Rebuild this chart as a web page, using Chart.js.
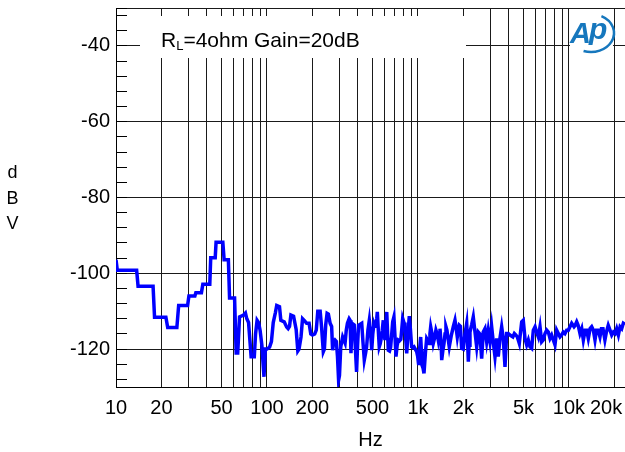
<!DOCTYPE html>
<html>
<head>
<meta charset="utf-8">
<script src="https://cdn.jsdelivr.net/npm/chart.js@4.4.1/dist/chart.umd.min.js"></script>
<style>
  html, body { margin: 0; padding: 0; background: #fff; }
  #wrap { position: relative; width: 625px; height: 452px; }
</style>
</head>
<body>
<div id="wrap"><canvas id="noiseChart" width="625" height="452"></canvas></div>
<script>
// noise floor spectrum
const freqHz = [
  10, 10.2, 13.7, 14.0, 17.6, 18.0, 21.4, 22.0, 25.3, 26.0, 29.8, 30.4, 33.3, 33.8, 36.8, 37.6,
  41.8, 42.4, 45.4, 46.0, 51.0, 52.0, 55.5, 56.5, 61.0, 62.5, 64.0, 65.8, 70, 72, 73.5, 75.5,
  78.5, 82.4, 84, 86, 88, 90, 92.5, 95.5, 97.5, 100, 104, 107, 110, 113.5, 116, 121,
  123.5, 130, 135, 138, 141, 144, 150, 156, 160, 163, 168, 172, 177, 183, 190, 195,
  200, 207, 212, 217, 225, 230, 236, 240, 245, 250, 255, 262, 268, 272, 277, 282,
  288, 293, 298, 302, 308, 317, 329, 335, 341, 350, 355, 360, 366, 378, 392, 398,
  404, 412, 424, 432, 441, 450, 457, 466, 476, 486, 494, 502, 511, 520, 527, 533,
  538, 546, 554, 562, 569, 580, 589, 597, 604, 612, 621, 628, 636, 648, 659, 670,
  680, 693, 705, 715, 728, 741, 755, 770, 780, 792, 808, 820, 832, 842, 858, 876,
  892, 908, 925, 941, 960, 980, 996, 1011, 1025, 1042, 1052, 1062, 1080, 1096, 1120, 1142,
  1165, 1189, 1200, 1214, 1240, 1263, 1290, 1315, 1340, 1362, 1380, 1399, 1420, 1436, 1460, 1487,
  1510, 1532, 1555, 1580, 1611, 1660, 1713, 1758, 1790, 1821, 1850, 1877, 1910, 1946, 1994, 2047,
  2102, 2130, 2155, 2180, 2210, 2270, 2324, 2385, 2448, 2508, 2570, 2641, 2706, 2778, 2850, 2921,
  3000, 3076, 3150, 3236, 3321, 3402, 3490, 3583, 3672, 3720, 3770, 3867, 3960, 4066, 4250, 4350,
  4454, 4550, 4688, 4863, 4981, 5114, 5248, 5380, 5521, 5662, 5807, 5961, 6100, 6266, 6430, 6596,
  6760, 6939, 7121, 7300, 7489, 7680, 7875, 8079, 8290, 8500, 8718, 8940, 9167, 9400, 9652, 9900,
  10160, 10420, 10800, 11000, 11250, 11500, 11830, 12150, 12450, 12800, 13100, 13430, 13800, 14140, 14500, 14870,
  15200, 15600, 16040, 16400, 16800, 17300, 17700, 18200, 18700, 19190, 19700, 20200, 20700, 21250, 21800, 22350,
  22900, 23500
];
const levelDbv = [
  -96.4, -99.2, -99.2, -103.4, -103.4, -111.6, -111.6, -114.3, -114.3, -108.5, -108.5, -106.0, -106.0, -105.1, -105.1, -102.9,
  -102.9, -95.9, -95.9, -91.8, -91.8, -96.4, -96.4, -106.5, -106.5, -121, -121, -111.5, -111, -110.5, -112, -113,
  -122, -122, -116, -112.4, -113, -115, -119, -127.3, -120, -120, -119.5, -118, -113, -110.5, -108.5, -108.8,
  -112.4, -112.8, -114.2, -114.6, -114, -111, -111.3, -114.8, -120.5, -120, -116.8, -112, -112.5, -113.2, -113.2, -116,
  -116.3, -116, -115, -110, -110, -114.3, -120.7, -120, -113.5, -110.6, -110.8, -113.2, -114, -120.3, -118, -117.6,
  -118, -122, -128.2, -127, -119.4, -116.8, -118.4, -115, -113.2, -112, -112.4, -121.1, -113.2, -113.6, -126, -119,
  -113.7, -113.5, -113.2, -118, -122.9, -121, -119.4, -115, -112.4, -116, -120.3, -116, -113.2, -114, -113.6, -112,
  -110.2, -115, -119.4, -118.6, -117.5, -115, -112.4, -115, -117.6, -114, -110.2, -115, -120.3, -120.5, -119.5, -116,
  -112.8, -111.5, -117, -122, -119, -117.6, -117.8, -117.4, -115, -111.9, -113, -114.8, -118, -121.1, -116, -111.3,
  -115, -119.4, -119.6, -119.4, -120, -120.7, -122, -124.2, -120, -116.8, -120, -124.2, -125, -126.4, -121, -117.2,
  -117.8, -118.5, -116, -114.1, -116, -118.5, -117, -115, -116, -117.6, -116, -114.6, -118, -122.9, -120.5, -118.5,
  -116, -114.1, -115, -117, -119.4, -116.5, -114.1, -112.4, -114.5, -116.8, -115, -113.7, -114, -119.8, -120, -116,
  -113.2, -118, -123.3, -119, -115.5, -113.5, -111.5, -115.5, -119.4, -115.5, -116, -122.5, -115.5, -114.6, -118.1, -115,
  -118.1, -114.1, -118, -122, -117.2, -122, -117.2, -114.1, -117.2, -121, -124.7, -115.9, -115.9, -116.3, -116.8, -115.9,
  -116.3, -116.8, -118.5, -112.8, -112.4, -117.2, -118.9, -117.6, -119.4, -119.8, -115, -114.1, -115.5, -116.8, -114.1, -118.1,
  -117.6, -115.9, -115, -115.5, -117.2, -116.3, -117.6, -118.9, -115, -115.9, -116.8, -116.3, -115.5, -115.9, -115, -115,
  -114.1, -113.2, -114.1, -113.7, -112.8, -113.7, -115.9, -114.6, -117.6, -115, -115, -117.2, -114.6, -114.1, -115, -117.6,
  -115, -115, -116.8, -114.6, -114.6, -117.6, -115.5, -113.7, -115, -116.3, -115.5, -115.9, -114.6, -116.3, -114.1, -114.6,
  -113.2, -113.5
];

const X_MIN = 10, X_MAX = 23500;
const Y_MIN = -130, Y_MAX = -30;
const xTickValues = [10, 20, 30, 40, 50, 60, 70, 80, 90,
  100, 200, 300, 400, 500, 600, 700, 800, 900,
  1000, 2000, 3000, 4000, 5000, 6000, 7000, 8000, 9000, 10000, 20000];
const xLabelValues = [10, 20, 50, 100, 200, 500, 1000, 2000, 5000, 10000, 20000];
const xLabelTexts = ['10', '20', '50', '100', '200', '500', '1k', '2k', '5k', '10k', '20k   '];
const yTickValues = [-30, -32, -36, -40, -44, -48, -52, -56, -60, -64, -68, -72, -76, -80,
  -84, -88, -92, -96, -100, -104, -108, -112, -116, -120, -124, -128];
const yLabelValues = [-40, -60, -80, -100, -120];

const FONT = '"Liberation Sans", Arial, sans-serif';
const GRID = '#1a1a1a';

// label box, logo and stacked y title
const decorPlugin = {
  id: 'decor',
  beforeDatasetsDraw(chart) {
    const ctx = chart.ctx;
    ctx.save();
    ctx.fillStyle = '#fff';
    ctx.fillRect(140, 16, 326, 42);
    ctx.fillRect(570, 11, 43, 46);

    ctx.fillStyle = '#000';
    ctx.textBaseline = 'alphabetic';
    ctx.textAlign = 'left';
    ctx.font = '21px ' + FONT;
    let x = 161;
    ctx.fillText('R', x, 47);
    x += ctx.measureText('R').width;
    ctx.font = '13px ' + FONT;
    ctx.fillText('L', x, 50);
    x += ctx.measureText('L').width;
    ctx.font = '21px ' + FONT;
    ctx.fillText('=4ohm Gain=20dB', x, 47);

    // Ap logo
    ctx.fillStyle = '#1677bd';
    ctx.strokeStyle = '#1677bd';
    ctx.font = 'italic bold 29px ' + FONT;
    ctx.fillText('A', 570, 43);
    ctx.font = 'italic bold 30px ' + FONT;
    ctx.fillText('p', 589, 39);
    ctx.lineWidth = 2.5;
    ctx.beginPath();
    ctx.ellipse(591, 33, 23, 19, 0, -1.1, 1.9);
    ctx.stroke();

    ctx.fillStyle = '#000';
    ctx.textAlign = 'center';
    ctx.font = '18px ' + FONT;
    ctx.fillText('d', 12.5, 178);
    ctx.fillText('B', 12.5, 204);
    ctx.fillText('V', 12.5, 229);
    ctx.restore();
  }
};

const ctx = document.getElementById('noiseChart').getContext('2d');
const noiseChart = new Chart(ctx, {
  type: 'line',
  data: {
    datasets: [{
      data: freqHz.map((f, i) => ({ x: f, y: levelDbv[i] })),
      borderColor: '#0000ff',
      borderWidth: 3.5,
      pointRadius: 0,
      tension: 0,
      fill: false
    }]
  },
  options: {
    responsive: false,
    animation: false,
    devicePixelRatio: 1,
    layout: { padding: { top: 8, left: 0, right: 0, bottom: 0 } },
    plugins: {
      legend: { display: false },
      tooltip: { enabled: false }
    },
    scales: {
      x: {
        type: 'logarithmic',
        min: X_MIN,
        max: X_MAX,
        afterBuildTicks: (scale) => {
          scale.ticks = xTickValues.map(v => ({ value: v }));
        },
        afterFit: (scale) => {
          scale.height = 65;
          scale.paddingLeft = 0;
          scale.paddingRight = 0;
        },
        ticks: {
          autoSkip: false,
          maxRotation: 0,
          minRotation: 0,
          padding: 9,
          color: '#000',
          font: { family: FONT, size: 20 },
          callback: (value) => {
            const i = xLabelValues.indexOf(value);
            return i >= 0 ? xLabelTexts[i] : '';
          }
        },
        grid: { color: GRID, lineWidth: 1, drawTicks: false },
        border: { display: true, color: '#000', width: 1 },
        title: {
          display: true,
          text: 'Hz',
          color: '#000',
          font: { family: FONT, size: 20 },
          padding: { top: 0, bottom: 0 }
        }
      },
      y: {
        type: 'linear',
        min: Y_MIN,
        max: Y_MAX,
        afterBuildTicks: (scale) => {
          scale.ticks = yTickValues.map(v => ({ value: v }));
        },
        afterFit: (scale) => {
          scale.width = 116;
          scale.paddingTop = 0;
          scale.paddingBottom = 0;
        },
        ticks: {
          autoSkip: false,
          padding: 17,
          color: '#000',
          font: { family: FONT, size: 20 },
          callback: (value) => yLabelValues.includes(value) ? String(value) : ''
        },
        grid: {
          color: (c) => (c.tick && (c.tick.value % 20 === 0 || c.tick.value === Y_MAX)) ? GRID : 'rgba(0,0,0,0)',
          lineWidth: 1,
          drawTicks: true,
          tickLength: -11,
          tickColor: '#000',
          tickWidth: 1
        },
        border: { display: true, color: '#000', width: 1 }
      }
    }
  },
  plugins: [decorPlugin]
});
</script>
</body>
</html>
